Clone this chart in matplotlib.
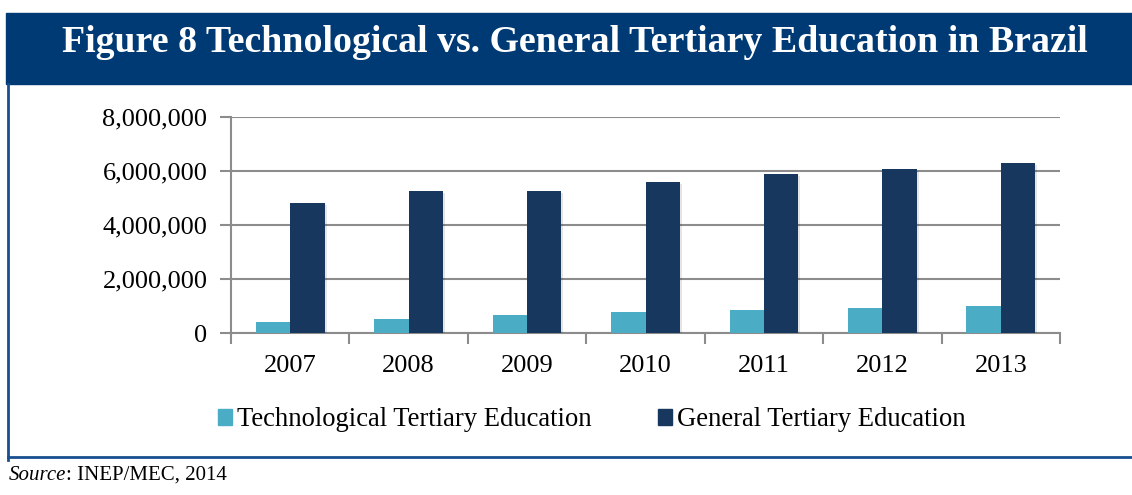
import matplotlib.pyplot as plt
import matplotlib.patheffects as pe
from matplotlib.patches import Rectangle, Patch
from matplotlib.lines import Line2D
from matplotlib.ticker import FuncFormatter
import numpy as np

# data
years = ['2007', '2008', '2009', '2010', '2011', '2012', '2013']
tech = [410000, 510000, 660000, 770000, 860000, 930000, 990000]
general = [4820000, 5270000, 5270000, 5600000, 5890000, 6090000, 6320000]
series_names = ['Technological Tertiary Education', 'General Tertiary Education']

c_tech = '#4BACC6'
c_gen = '#17375E'
c_banner = '#003A75'
c_border = '#1A4F8F'
c_grid = '#8C8C8C'

plt.rcParams['font.family'] = ['Liberation Serif', 'DejaVu Serif']

W, H = 1132, 495
fig = plt.figure(figsize=(W / 100, H / 100), dpi=100)


def fx(px):
    return px / W


def fy(py):
    return 1 - py / H


# title banner and frame lines
fig.patches.append(Rectangle((fx(6), fy(84)), 1 - fx(6), 71 / H,
                             transform=fig.transFigure, color=c_banner, zorder=0))
fig.text(0.508, fy(52), 'Figure 8 Technological vs. General Tertiary Education in Brazil',
         color='white', fontsize=27.3, fontweight='bold', ha='center', va='baseline')
fig.lines.append(Line2D([fx(8), fx(8)], [fy(84), fy(460)],
                        transform=fig.transFigure, color=c_border, lw=2))
fig.lines.append(Line2D([fx(8), 1], [fy(457), fy(457)],
                        transform=fig.transFigure, color=c_border, lw=2))

ax = fig.add_axes([fx(231), fy(333), 829 / W, 215.7 / H])

x = np.arange(len(years))
w = 0.29
shadow = [pe.SimplePatchShadow(offset=(1.5, -1.5), shadow_rgbFace='black', alpha=0.1), pe.Normal()]
ax.bar(x - w / 2, tech, w, color=c_tech, zorder=3, path_effects=shadow)
ax.bar(x + w / 2, general, w, color=c_gen, zorder=3, path_effects=shadow)

ax.set_xlim(-0.5, len(years) - 0.5)
ax.set_ylim(0, 8000000)
ax.set_yticks(np.arange(0, 8000001, 2000000))
ax.yaxis.set_major_formatter(FuncFormatter(lambda v, p: f'{int(v):,}'))
ax.set_xticks(x)
ax.set_xticklabels(years)
ax.set_xticks(np.arange(-0.5, len(years)), minor=True)
ax.tick_params(axis='x', which='major', length=0, pad=16, labelsize=19)
ax.tick_params(axis='x', which='minor', length=8, width=1.5, color=c_grid)
ax.tick_params(axis='y', length=8, width=1.5, color=c_grid, pad=9, labelsize=19)

ax.grid(axis='y', color=c_grid, lw=1.5, zorder=0)
ax.set_axisbelow(True)
for s in ['top', 'right']:
    ax.spines[s].set_visible(False)
for s in ['left', 'bottom']:
    ax.spines[s].set_color(c_grid)
    ax.spines[s].set_linewidth(1.5)

handles = [Patch(color=c_tech), Patch(color=c_gen)]
fig.legend(handles, series_names, loc='center', bbox_to_anchor=(fx(592), fy(420)),
           ncol=2, frameon=False, fontsize=19.2, handlelength=0.5, handleheight=0.5,
           handletextpad=0.2, columnspacing=2.5)

src = fig.text(fx(9), fy(480), 'Source', fontsize=15, style='italic', va='baseline')
fig.canvas.draw()
bb = src.get_window_extent()
fig.text(bb.x1 / fig.bbox.width, fy(480), ': INEP/MEC, 2014', fontsize=15, va='baseline')

fig.savefig('out.png', dpi=100)
